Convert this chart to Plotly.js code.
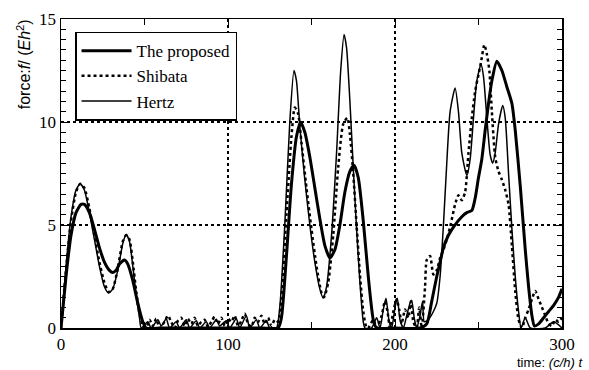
<!DOCTYPE html>
<html>
<head>
<meta charset="utf-8">
<script src="https://cdn.plot.ly/plotly-3.0.1.min.js"></script>
<style>html,body{margin:0;padding:0;background:#fff;}#chart{width:589px;height:370px;}</style>
</head>
<body>
<div id="chart"></div>
<script>
// Series names
const seriesNames = ["The proposed", "Shibata", "Hertz"];

// The proposed
const tProposed = [0,3,6,9,12,14,17,20,23,26,29,31,33,35,38,40,43,46,49,51,60,80,100,120,130,132,135,138,141,143.5,146,149,152,155,158,161,164,167,170,173,175.5,178,181,184,187,189,200,215,219,222,225,227,229,232,235,240,243,246,248,250,252,254,256,258,261,264,267,270,272,275,278,280,282,283.5,286,289,292,295,298,300];
const fProposed = [0,2.5,4.5,5.6,6.0,6.0,5.6,4.8,3.9,3.2,2.8,2.7,2.8,3.1,3.3,3.1,2.3,1.2,0.3,0,0,0,0,0,0,0.5,3.5,7.0,9.3,10.0,9.5,8.3,6.8,5.3,4.0,3.4,3.8,5.0,6.6,7.6,7.9,7.3,5.2,2.5,0.4,0,0,0,0.2,1.3,2.5,3.2,3.9,4.5,4.9,5.4,5.6,5.7,6.3,7.3,8.2,9.6,10.9,12.0,12.95,12.5,11.7,10.9,9.6,6.9,3.8,2.0,0.6,0.1,0.2,0.5,0.8,1.1,1.5,1.9];

// Shibata
const tShibata = [0,3,6,9,11.5,14,17,20,23,26,28.5,31,34,37,39,41,43,45,47,49,51,53,55,57,59,62,64,66,68,70,72,74,76,78,80,82,84,86,88,90,92,94,96,98,100,102,104,106,108,110,112,114,116,118,120,122,124,126,128,130,132,135,138,140,142,144,147,150,153,156,157.5,160,163,166,169,171.5,173,175,177,179,181,183,184,187,189,192,194,195.5,197,199,201,202.5,204,206,208,209.5,211,213,214.5,216,218,219,221,223,225,227,229,231,233,236,238,240,242,244,246,248,250,251.5,253.5,255,256.5,258,260,262,264,266,268,270,272,274,276,278,280,282,284,286,288,290,292,294,296,298,300];
const fShibata = [0,2.8,5.2,6.6,7.0,6.8,5.8,4.5,3.2,2.2,1.75,1.9,2.9,4.2,4.5,4.3,3.2,1.8,0.7,0.1,0,0.4,0.1,0.45,0,0.3,0.6,0.3,0,0.35,0.5,0.1,0.45,0.2,0.5,0.1,0.3,0.4,0.05,0.3,0.55,0.2,0.5,0.1,0.45,0.3,0.6,0.1,0.35,0.7,0.2,0.05,0.5,0.3,0.6,0.2,0.5,0.1,0.4,0.3,1.5,5.5,9.3,10.7,10.4,9.0,6.8,4.8,3.0,1.7,1.5,2.2,4.5,7.8,9.9,10.2,9.4,7.5,5.0,2.6,0.8,0,0,0.4,0,0.6,1.3,0.8,0,0.8,1.4,0.9,0.2,0.9,0.5,1.3,0.3,0,1.0,0,2.0,3.3,3.5,2.6,2.8,3.4,3.8,4.3,4.9,6.0,6.45,6.2,6.6,8.5,10.2,11.5,12.3,12.9,13.75,13.3,12.5,10.5,8.3,7.6,7.2,6.7,6.0,4.0,1.8,0.4,0,0.5,0.9,1.4,1.8,1.4,1.0,0.6,0.2,0.1,0.4,0.3,0.5];

// Hertz
const tHertz = [0,3,6,9,11.5,14,17,20,23,26,28.5,31,34,37,39,41,43,45,47,48,52,54,58,60,63,65,69,71,75,77,81,83,87,89,93,95,99,101,105,107,111,113,117,119,123,125,129,131,134,137,139.5,141,143,146,149,152,155,157,159,162,165,167.5,169.5,171,173,175,177,179,181,182,186,189,191,193,194.6,196.5,198,200,201.4,203,205,207,209,210,211.5,213,215,216.5,217.5,220,223,225,227,229,231,233,236,238,240,243,245,247,249,251.5,253,255,257,258.5,260,262,264.5,266,268,270,272,274,275.5,278,281,290,295,300];
const fHertz = [0,3.0,5.4,6.7,7.0,6.7,5.6,4.3,3.0,2.0,1.7,1.9,2.8,4.1,4.55,4.2,3.0,1.6,0.5,0,0.3,0,0.4,0.1,0.45,0,0.3,0,0.4,0,0.35,0,0.3,0,0.4,0.1,0.35,0,0.45,0,0.6,0,0.4,0,0.35,0,0,1.0,5.0,10.0,12.5,12.0,9.8,7.2,5.0,3.2,1.9,1.45,2.0,4.5,8.5,12.5,14.25,13.6,11.0,7.8,4.8,2.2,0.3,0,0,0.5,0,0.9,1.45,0.3,0,1.0,1.45,0.4,0,0.6,1.2,1.35,0.5,0,0.6,1.3,0.3,0.4,0.8,1.2,2.5,5.0,8.0,10.5,11.65,10.5,8.5,7.4,8.2,10.2,12.0,12.8,12.2,10.2,8.4,8.0,8.5,9.9,10.8,10.2,7.5,4.8,2.5,0.8,0,0.5,0,0,0.3,0];

const xTickVals = [0,100,200,300];
const yTickVals = [0,5,10,15];

const traces = [
  {x: tProposed, y: fProposed, name: seriesNames[0], type: 'scatter', mode: 'lines',
   line: {color: '#000', width: 3, shape: 'spline', smoothing: 0.6}},
  {x: tShibata, y: fShibata, name: seriesNames[1], type: 'scatter', mode: 'lines',
   line: {color: '#000', width: 2.5, dash: 'dot', shape: 'spline', smoothing: 0.6}},
  {x: tHertz, y: fHertz, name: seriesNames[2], type: 'scatter', mode: 'lines',
   line: {color: '#000', width: 1.5, shape: 'spline', smoothing: 0.6}}
];

const serif = 'Liberation Serif, Times New Roman, serif';
const sans = 'Liberation Sans, Arial, sans-serif';

const layout = {
  width: 589, height: 370,
  margin: {l: 61, r: 27, t: 19, b: 42, pad: 0},
  paper_bgcolor: '#fff', plot_bgcolor: '#fff',
  showlegend: true,
  legend: {x: 0.028, y: 0.959, xanchor: 'left', yanchor: 'top',
           bordercolor: '#000', borderwidth: 1.5, bgcolor: '#fff',
           font: {family: serif, size: 17, color: '#000'}, itemwidth: 50},
  xaxis: {range: [0, 300], tickvals: xTickVals, ticktext: xTickVals.map(String),
          ticks: 'inside', ticklen: 6, tickcolor: '#000',
          minor: {dtick: 50, tick0: 0, ticks: 'inside', ticklen: 6, tickcolor: '#000', showgrid: false},
          showline: true, linecolor: '#000', linewidth: 1.5, mirror: 'allticks',
          showgrid: true, gridcolor: '#000', griddash: 'dot', gridwidth: 1.5,
          zeroline: false, tickfont: {family: serif, size: 17, color: '#000'}},
  yaxis: {range: [0, 15], tickvals: yTickVals, ticktext: yTickVals.map(String),
          ticks: 'inside', ticklen: 6, tickcolor: '#000',
          minor: {dtick: 0.5, tick0: 0, ticks: 'inside', ticklen: 5, tickcolor: '#000', showgrid: false},
          showline: true, linecolor: '#000', linewidth: 1.5, mirror: 'allticks',
          showgrid: true, gridcolor: '#000', griddash: 'dot', gridwidth: 1.5,
          zeroline: false, tickfont: {family: serif, size: 17, color: '#000'}},
  annotations: [
    {text: 'force:<i>f</i>/ (<i>Eh</i><sup>2</sup>)', xref: 'paper', yref: 'paper',
     x: -0.075, y: 0.855, textangle: -90, showarrow: false, xanchor: 'center', yanchor: 'middle',
     font: {family: sans, size: 16, color: '#000'}},
    {text: 'time: <i>(c/h) t</i>', xref: 'paper', yref: 'paper',
     x: 1.046, y: -0.112, showarrow: false, xanchor: 'right', yanchor: 'middle',
     font: {family: sans, size: 13, color: '#000'}}
  ]
};

Plotly.newPlot('chart', traces, layout, {displayModeBar: false, staticPlot: true});
</script>
</body>
</html>
